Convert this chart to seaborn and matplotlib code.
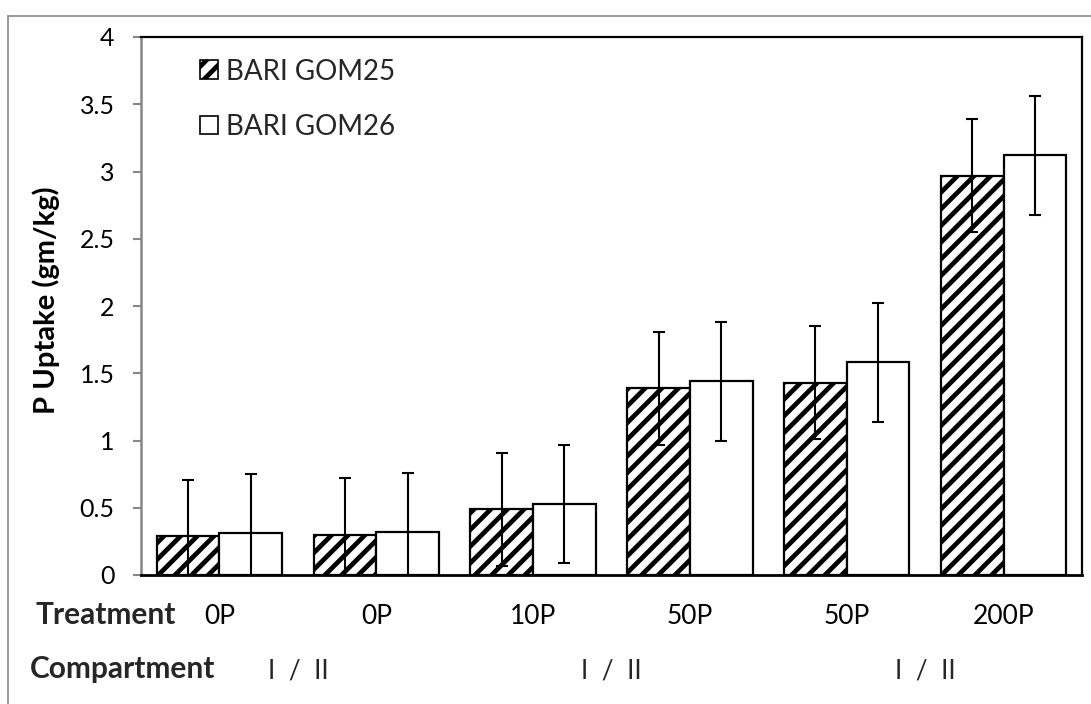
import matplotlib
matplotlib.use("Agg")
import matplotlib.pyplot as plt
import matplotlib.patches as mpatches
from matplotlib.lines import Line2D
import matplotlib.transforms as mtransforms
import numpy as np
import pandas as pd
import seaborn as sns

# ---- data -------------------------------------------------------------
treatments = ["0P", "0P", "10P", "50P", "50P", "200P"]
varieties = ["BARI GOM25", "BARI GOM26"]
gom25_uptake = [0.29, 0.30, 0.49, 1.39, 1.43, 2.97]
gom26_uptake = [0.31, 0.32, 0.53, 1.44, 1.58, 3.12]
gom25_err = [0.42, 0.42, 0.42, 0.42, 0.42, 0.42]
gom26_err = [0.44, 0.44, 0.44, 0.44, 0.44, 0.44]
compartments = ["I  /  II", "I  /  II", "I  /  II"]

rows = []
for i in range(len(treatments)):
    rows.append({"group": i, "variety": varieties[0], "uptake": gom25_uptake[i]})
    rows.append({"group": i, "variety": varieties[1], "uptake": gom26_uptake[i]})
df = pd.DataFrame(rows)

# ---- style ------------------------------------------------------------
sns.set_theme(style="white")
plt.rcParams["font.family"] = ["Lato", "DejaVu Sans"]
plt.rcParams["hatch.linewidth"] = 3.4
plt.rcParams["hatch.color"] = "black"

W, H = 1091, 704
fig = plt.figure(figsize=(W / 100, H / 100), dpi=100)
ax = fig.add_axes([141 / W, 1 - 575 / H, (1082 - 141) / W, (575 - 37) / H])

sns.barplot(
    data=df, x="group", y="uptake", hue="variety", hue_order=varieties,
    palette=["white", "white"], edgecolor="black", linewidth=1.6,
    errorbar=None, width=0.8, legend=False, ax=ax, zorder=2,
)

errs = [gom25_err, gom26_err]
bar_containers = list(ax.containers)
for k, cont in enumerate(bar_containers):
    if k == 0:
        for bar in cont:
            bar.set_hatch("//")
    xs = [b.get_x() + b.get_width() / 2 for b in cont]
    ys = [b.get_height() for b in cont]
    ax.errorbar(xs, ys, yerr=errs[k], fmt="none", ecolor="black",
                elinewidth=1.5, capsize=4.3, capthick=1.5, zorder=3)

# ---- axes -------------------------------------------------------------
ax.set_xlim(-0.5, 5.5)
ax.set_ylim(0, 4)
ax.set_yticks(np.arange(0, 4.01, 0.5))
ax.set_yticklabels(["0", "0.5", "1", "1.5", "2", "2.5", "3", "3.5", "4"])
ax.set_xticks(range(len(treatments)))
ax.set_xticklabels(treatments)
ax.set_xlabel("")
ax.set_ylabel("P Uptake (gm/kg)", fontsize=21, fontweight="bold", color="black")
ax.yaxis.set_label_coords(-0.086, 0.51)

ax.tick_params(axis="y", length=6, width=1.5, color="#868686", pad=13,
               labelsize=18, labelcolor="black", left=True)
ax.tick_params(axis="x", length=0, pad=21, labelsize=19, labelcolor="black")

for side in ["top", "right", "bottom"]:
    ax.spines[side].set_color("black")
    ax.spines[side].set_linewidth(1.6)
ax.spines["bottom"].set_linewidth(2.0)
ax.spines["left"].set_color("#868686")
ax.spines["left"].set_linewidth(1.8)

# ---- legend -----------------------------------------------------------
handles = [
    mpatches.Patch(facecolor="white", edgecolor="black", hatch="//", linewidth=1.2),
    mpatches.Patch(facecolor="white", edgecolor="black", linewidth=1.2),
]
ax.legend(handles, varieties, loc="upper left", bbox_to_anchor=(0.0627, 0.96),
          frameon=False, fontsize=20, borderpad=0, borderaxespad=0,
          handlelength=0.65, handleheight=0.65, handletextpad=0.3,
          labelspacing=1.05)

# ---- row titles below the axis ---------------------------------------
fig.text(35 / W, 1 - 624 / H, "Treatment", fontsize=21.5, fontweight="bold",
         ha="left", va="baseline")
fig.text(30 / W, 1 - 678 / H, "Compartment", fontsize=21.5, fontweight="bold",
         ha="left", va="baseline")
blend = mtransforms.blended_transform_factory(ax.transData, fig.transFigure)
for xpos, lab in zip([0.5, 2.5, 4.5], compartments):
    ax.text(xpos, 1 - 678 / H, lab, transform=blend, fontsize=19,
            ha="center", va="baseline")

# ---- chart-area frame -------------------------------------------------
fig.add_artist(Line2D([8 / W, 8 / W], [0, 1 - 16 / H], transform=fig.transFigure,
                      color="#898989", linewidth=1.2))
fig.add_artist(Line2D([8 / W, 1], [1 - 16 / H, 1 - 16 / H], transform=fig.transFigure,
                      color="#898989", linewidth=1.2))

fig.savefig("out.png", dpi=100, facecolor="white")
